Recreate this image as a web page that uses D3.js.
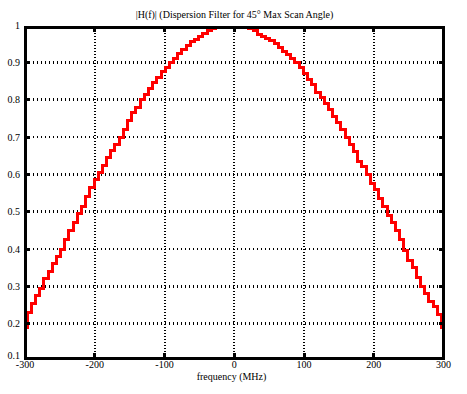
<!DOCTYPE html>
<html>
<head>
<meta charset="utf-8">
<script src="https://cdn.jsdelivr.net/npm/d3@7"></script>
<style>
  html, body { margin: 0; padding: 0; background: #fff; }
  svg { display: block; }
  text { font-family: "Liberation Serif", "DejaVu Serif", serif; fill: #000; }
</style>
</head>
<body>
<svg id="chart" width="467" height="394"></svg>
<script>
const titleText = "|H(f)| (Dispersion Filter for 45° Max Scan Angle)";
const xLabelText = "frequency (MHz)";

const xTicks = [-300, -200, -100, 0, 100, 200, 300];
const yTicks = [0.1, 0.2, 0.3, 0.4, 0.5, 0.6, 0.7, 0.8, 0.9, 1];

// sampled frequency (MHz)
const freq = [
  -300, -294, -288, -282, -276, -270, -264, -258, -252, -246,
  -240, -234, -228, -222, -216, -210, -204, -198, -192, -186,
  -180, -174, -168, -162, -156, -150, -144, -138, -132, -126,
  -120, -114, -108, -102, -96, -90, -84, -78, -72, -66,
  -60, -54, -48, -42, -36, -30, -24, -18, -12, -6,
  0, 6, 12, 18, 24, 30, 36, 42, 48, 54,
  60, 66, 72, 78, 84, 90, 96, 102, 108, 114,
  120, 126, 132, 138, 144, 150, 156, 162, 168, 174,
  180, 186, 192, 198, 204, 210, 216, 222, 228, 234,
  240, 246, 252, 258, 264, 270, 276, 282, 288, 294,
  300
];

// |H(f)|
const magnitude = [
  0.19, 0.23, 0.255, 0.275, 0.295, 0.32, 0.34, 0.36, 0.38, 0.40,
  0.425, 0.45, 0.47, 0.495, 0.515, 0.54, 0.565, 0.585, 0.605, 0.625,
  0.645, 0.665, 0.68, 0.70, 0.72, 0.745, 0.765, 0.78, 0.80, 0.815,
  0.83, 0.845, 0.86, 0.875, 0.885, 0.90, 0.91, 0.925, 0.935, 0.945,
  0.955, 0.962, 0.97, 0.978, 0.985, 0.99, 0.994, 0.994, 0.994, 0.994,
  0.994, 0.994, 0.994, 0.994, 0.99, 0.985, 0.975, 0.97, 0.965, 0.958,
  0.95, 0.94, 0.93, 0.92, 0.91, 0.90, 0.885, 0.87, 0.855, 0.84,
  0.82, 0.805, 0.79, 0.775, 0.755, 0.74, 0.72, 0.70, 0.68, 0.66,
  0.635, 0.62, 0.60, 0.575, 0.56, 0.535, 0.515, 0.49, 0.47, 0.45,
  0.425, 0.395, 0.37, 0.35, 0.325, 0.30, 0.28, 0.26, 0.245, 0.225,
  0.19
];

const svg = d3.select("#chart");
const plotLeft = 25, plotRight = 443.5, plotTop = 27, plotBottom = 358;

const x = d3.scaleLinear().domain([-300, 300]).range([plotLeft, plotRight]);
const y = d3.scaleLinear().domain([0.1, 1]).range([plotBottom + 3, plotTop - 2]);

// dotted grid
const grid = svg.append("g")
  .attr("stroke", "#000")
  .attr("shape-rendering", "crispEdges");

grid.selectAll(".hgrid")
  .data(yTicks.slice(1, -1))
  .join("line")
  .attr("x1", plotLeft).attr("x2", plotRight)
  .attr("y1", d => y(d)).attr("y2", d => y(d))
  .attr("stroke-width", 2.5)
  .attr("stroke-dasharray", "1 3");

grid.selectAll(".vgrid")
  .data(xTicks.slice(1, -1))
  .join("line")
  .attr("y1", plotTop).attr("y2", plotBottom)
  .attr("x1", d => x(d)).attr("x2", d => x(d))
  .attr("stroke-width", 2)
  .attr("stroke-dasharray", "1 2");

// the curve
const pts = freq.map((f, i) => [f, magnitude[i]]);
svg.append("path")
  .datum(pts)
  .attr("fill", "none")
  .attr("stroke", "#ff0000")
  .attr("stroke-width", 3)
  .attr("shape-rendering", "crispEdges")
  .attr("d", d3.line().x(d => x(d[0])).y(d => y(d[1])).curve(d3.curveStep));

// frame
svg.append("rect")
  .attr("x", plotLeft).attr("y", plotTop)
  .attr("width", plotRight - plotLeft).attr("height", plotBottom - plotTop)
  .attr("fill", "none")
  .attr("stroke", "#000")
  .attr("stroke-width", 3)
  .attr("shape-rendering", "crispEdges");

// inward tick marks
const ticks = svg.append("g")
  .attr("stroke", "#000")
  .attr("stroke-width", 3)
  .attr("shape-rendering", "crispEdges");

xTicks.slice(1, -1).forEach(t => {
  ticks.append("line").attr("x1", x(t)).attr("x2", x(t)).attr("y1", plotBottom).attr("y2", plotBottom - 5);
  ticks.append("line").attr("x1", x(t)).attr("x2", x(t)).attr("y1", plotTop).attr("y2", plotTop + 5);
});
yTicks.slice(1, -1).forEach(t => {
  ticks.append("line").attr("y1", y(t)).attr("y2", y(t)).attr("x1", plotLeft).attr("x2", plotLeft + 5);
  ticks.append("line").attr("y1", y(t)).attr("y2", y(t)).attr("x1", plotRight).attr("x2", plotRight - 5);
});

// tick labels
svg.append("g").selectAll("text")
  .data(xTicks)
  .join("text")
  .attr("x", d => x(d))
  .attr("y", 368)
  .attr("text-anchor", "middle")
  .attr("font-size", 10)
  .text(d => d);

svg.append("g").selectAll("text")
  .data(yTicks)
  .join("text")
  .attr("x", 20)
  .attr("y", d => Math.min(y(d), plotBottom - 3))
  .attr("dy", "0.35em")
  .attr("text-anchor", "end")
  .attr("font-size", 10)
  .text(d => d);

// title and axis label
svg.append("text")
  .attr("x", 234.5)
  .attr("y", 18)
  .attr("text-anchor", "middle")
  .attr("font-size", 10)
  .text(titleText);

svg.append("text")
  .attr("x", 231.5)
  .attr("y", 380)
  .attr("text-anchor", "middle")
  .attr("font-size", 10)
  .text(xLabelText);
</script>
</body>
</html>
